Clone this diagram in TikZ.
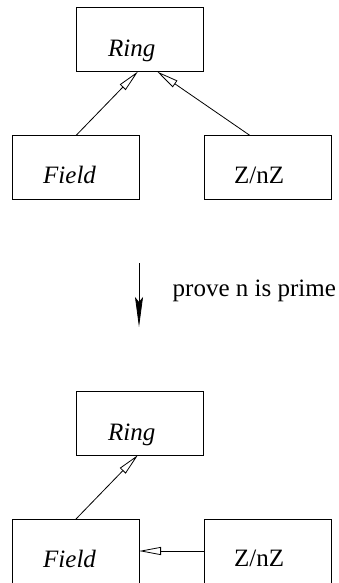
\documentclass[tikz,border=0pt]{standalone}
\usepackage{fontspec}
\setmainfont{Liberation Serif}
\usetikzlibrary{arrows.meta,calc}
\begin{document}
\begin{tikzpicture}[x=1pt,y=-1pt,
  box/.style={draw,line width=0.8pt,minimum width=127pt,minimum height=64pt,inner sep=0pt,outer sep=0pt},
  lbl/.style={anchor=base west,inner sep=0pt,font=\fontsize{25}{30}\selectfont},
  gen/.style={line width=0.8pt,-{Triangle[open,length=22pt,width=8pt,line width=0.8pt]}},
  prove/.style={line width=0.8pt,-{Stealth[length=30pt,width=8pt,inset=5pt]}}]
\useasboundingbox (0,0) rectangle (339,583);
% top diagram
\node[box] (ring1) at (139.5,39.5) {};
\node[box] (field1) at (75.5,167.5) {};
\node[box] (zn1) at (267.5,167.5) {};
\node[lbl] (ring1t) at ($(ring1.north west)+(32,49)$) {\itshape Ring};
\node[lbl] (field1t) at ($(field1.north west)+(31,48)$) {\itshape Field};
\node[lbl] (zn1t) at ($(zn1.north west)+(30,47.5)$) {Z/nZ};
\coordinate (r1a) at ($(ring1.south)+(-1.5,0)$);
\coordinate (r1b) at ($(ring1.south)+(17.5,0)$);
\coordinate (f1a) at ($(field1.north)+(0.5,0)$);
\coordinate (z1a) at ($(zn1.north)+(-17.5,0)$);
\draw[gen] (f1a) -- (r1a);
\draw[gen] (z1a) -- (r1b);
% transition
\coordinate (mtop) at (139,263);
\coordinate (mbot) at (139,327);
\draw[prove] (mtop) -- (mbot);
\node[lbl] (provet) at (172.5,296) {prove n is prime};
% bottom diagram
\node[box] (ring2) at (139.5,423) {};
\node[box] (field2) at (75.5,551) {};
\node[box] (zn2) at (267.5,551) {};
\node[lbl] (ring2t) at ($(ring2.north west)+(32,49)$) {\itshape Ring};
\node[lbl] (field2t) at ($(field2.north west)+(31,48)$) {\itshape Field};
\node[lbl] (zn2t) at ($(zn2.north west)+(30,47.5)$) {Z/nZ};
\coordinate (r2a) at ($(ring2.south)+(-1.5,0)$);
\coordinate (f2a) at ($(field2.north)+(0.5,0)$);
\draw[gen] (f2a) -- (r2a);
\draw[gen] (zn2.west) -- (field2.east);
\end{tikzpicture}
\end{document}
